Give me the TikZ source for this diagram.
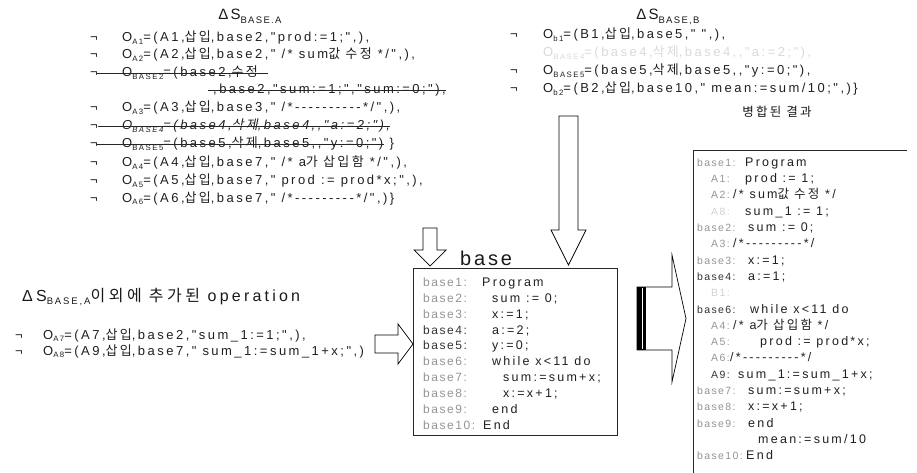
\documentclass[tikz,border=0pt]{standalone}
\usepackage{fontspec}
% Latin text: Arial-width sans, widely tracked; Hangul from Noto Sans CJK KR
\newfontfamily\opfont[LetterSpace=19]{Liberation Sans}
\newfontfamily\codefont[LetterSpace=18]{Liberation Sans}
\newfontfamily\lblfont[LetterSpace=13]{Liberation Sans}
\newfontfamily\ttlfont[LetterSpace=14]{Liberation Sans}
\newfontfamily\ttlwide[LetterSpace=20]{Liberation Sans}
\newfontfamily\kr[LetterSpace=18]{Noto Sans CJK KR}
\newfontfamily\krwide[LetterSpace=22]{Noto Sans CJK KR}
\newfontfamily\krslant[LetterSpace=18,FakeSlant=0.2]{Noto Sans CJK KR}
\newcommand\ko[1]{{\kr #1}}
\newcommand\kow[1]{{\krwide #1}}
\newcommand\kosl[1]{{\krslant #1}}
% small lowered index, as in O_{A1}
\newcommand\lo[1]{\raisebox{-2.5pt}{\fontsize{7.8pt}{8pt}\selectfont #1}}
\newcommand\tlo[1]{\raisebox{-3.2pt}{\fontsize{9.5pt}{10pt}\selectfont #1}}
\tikzset{
  op/.style={inner sep=0pt, anchor=base west, text=black!88,
             font=\opfont\fontsize{13pt}{15pt}\selectfont},
  negsign/.style={op},
  ttl/.style={inner sep=0pt, text=black!90,
             font=\ttlfont\fontsize{15pt}{17pt}\selectfont},
  code/.style={inner sep=0pt, anchor=base west, text=black!88,
             font=\codefont\fontsize{12.5pt}{14pt}\selectfont},
  lbl/.style={inner sep=0pt, anchor=base west, text=black!42,
             font=\lblfont\fontsize{12pt}{14pt}\selectfont},
  lbldark/.style={lbl, text=black!80},
  mlbl/.style={lbl, font=\lblfont\fontsize{10.5pt}{12pt}\selectfont},
  mlbldark/.style={mlbl, text=black!80},
  mlblfaint/.style={mlbl, text=black!18},
  strike/.style={line width=0.8pt, black!85},
  blockarrow/.style={draw=black, line width=0.7pt, fill=white, line join=miter},
  frame/.style={draw=black!85, line width=0.7pt},
}
\begin{document}
\begin{tikzpicture}[x=1pt,y=-1pt]
\useasboundingbox (0,0) rectangle (917,473);

% ---------- change set of branch A ----------
\node[ttl, anchor=base] (tA) at (250,20) {ΔS\tlo{BASE.A}};
\foreach \yy/\nm in {42/a1,59/a2,77/a3,112/a5,130/a6,148/a7,167/a8,185/a9,202/a10}
  \node[negsign] (n\nm) at (90,\yy) {¬};
\node[op] (oa1) at (122,42) {O\lo{A1}=(A1,\ko{삽입},base2,"prod:=1;",),};
\node[op] (oa2) at (122,59) {O\lo{A2}=(A2,\ko{삽입},base2," /* sum\ko{값 수정} */",),};
\node[op] (sA)  at (122,77) {O\lo{BASE2}=(base2,\ko{수정}};
\node[op] (sB)  at (213,94) {,base2,"sum:=1;","sum:=0;"),};
\node[op] (oa3) at (122,112) {O\lo{A3}=(A3,\ko{삽입},base3," /*----------*/",),};
\node[op, font=\opfont\itshape\fontsize{13pt}{15pt}\selectfont] (sC) at (122,130)
  {O\lo{BASE4}=(base4,\kosl{삭제},base4,,"a:=2;"),};
\node[op] (sD)  at (122,148) {O\lo{BASE5}=(base5,\ko{삭제},base5,,"y:=0;")};
\node[op] (sDend) at ([xshift=6pt]sD.base east) {\}};
\node[op] (oa4) at (122,167) {O\lo{A4}=(A4,\ko{삽입},base7," /* a\ko{가 삽입함} */",),};
\node[op] (oa5) at (122,185) {O\lo{A5}=(A5,\ko{삽입},base7," prod := prod*x;",),};
\node[op] (oa6) at (122,202) {O\lo{A6}=(A6,\ko{삽입},base7," /*---------*/",)\}};

% struck-out operations
\draw[strike] ([xshift=-25pt,yshift=4pt]sA.base west) -- ([xshift=10pt,yshift=4pt]sA.base east);
\draw[strike] ([xshift=-5pt,yshift=4pt]sB.base west) -- ([yshift=4pt]sB.base east);
\draw[strike] ([xshift=-24pt,yshift=4pt]sC.base west) -- ([yshift=4pt]sC.base east);
\draw[strike] ([xshift=-25pt,yshift=4pt]sD.base west) -- ([yshift=4pt]sD.base east);

% ---------- change set of branch B ----------
\node[ttl, anchor=base] (tB) at (668,20) {ΔS\tlo{BASE,B}};
\foreach \yy/\nm in {39/b1,75/b3,93/b4}
  \node[negsign] (n\nm) at (510,\yy) {¬};
\node[op] (ob1) at (543,39) {O\lo{b1}=(B1,\ko{삽입},base5," ",),};
\node[op, text=black!15] (ob2) at (543,57) {O\lo{BASE4}=(base4,\ko{삭제},base4,,"a:=2;"),};
\node[op] (ob3) at (543,75) {O\lo{BASE5}=(base5,\ko{삭제},base5,,"y:=0;"),};
\node[op] (ob4) at (543,93) {O\lo{b2}=(B2,\ko{삽입},base10," mean:=sum/10;",)\}};

% ---------- extra operations ----------
\node[ttl, anchor=base west, font=\ttlwide\fontsize{16pt}{18pt}\selectfont] (tX) at (22,301)
  {ΔS\tlo{BASE,A}\kow{이외에 추가된} operation};
\node[negsign] (nx1) at (15,339) {¬};
\node[negsign] (nx2) at (15,355) {¬};
\node[op] (ox1) at (43,339) {O\lo{A7}=(A7,\ko{삽입},base2,"sum\_1:=1;",),};
\node[op] (ox2) at (43,355) {O\lo{A8}=(A9,\ko{삽입},base7," sum\_1:=sum\_1+x;",)};

% ---------- base program ----------
\node[frame, anchor=north west, minimum width=204pt, minimum height=167pt, inner sep=0pt]
  (basebox) at (413,268) {};
\node[inner sep=0pt, anchor=base west, text=black!90,
      font=\ttlfont\fontsize{20pt}{22pt}\selectfont] (basettl) at (460,265) {base};
\node[lbl]     (bl1)  at (423,286.3) {base1:};   \node[code] (bc1)  at (482,286.3) {Program};
\node[lbl]     (bl2)  at (423,302.2) {base2:};   \node[code] (bc2)  at (492,302.2) {sum := 0;};
\node[lbl]     (bl3)  at (423,318.1) {base3:};   \node[code] (bc3)  at (492,318.1) {x:=1;};
\node[lbldark] (bl4)  at (423,334.0) {base4:};   \node[code] (bc4)  at (492,334.0) {a:=2;};
\node[lbldark] (bl5)  at (423,349.9) {base5:};   \node[code] (bc5)  at (492,349.9) {y:=0;};
\node[lbl]     (bl6)  at (423,365.8) {base6:};   \node[code] (bc6)  at (492,365.8) {while x<11 do};
\node[lbl]     (bl7)  at (423,381.7) {base7:};   \node[code] (bc7)  at (503,381.7) {sum:=sum+x;};
\node[lbl]     (bl8)  at (423,397.6) {base8:};   \node[code] (bc8)  at (503,397.6) {x:=x+1;};
\node[lbl]     (bl9)  at (423,413.5) {base9:};   \node[code] (bc9)  at (492,413.5) {end};
\node[lbl]     (bl10) at (423,429.4) {base10:};  \node[code] (bc10) at (483,429.4) {End};

% ---------- merged result ----------
\node[inner sep=0pt, anchor=base, text=black!90,
      font=\kr\fontsize{12.5pt}{14pt}\selectfont] (mttl) at (777,117) {병합된 결과};
\draw[frame] (907,150) coordinate (mtr) -- (693,150) coordinate (mtl) -- (693,473) coordinate (mbl);
\node[mlbl]      (ml1)  at (697,166.3) {base1:};  \node[code] (mc1)  at (745,166.3) {Program};
\node[mlbl]      (ml2)  at (711,182.6) {A1:};     \node[code] (mc2)  at (745,182.6) {prod := 1;};
\node[mlbl]      (ml3)  at (711,198.9) {A2:};     \node[code] (mc3)  at (733,198.9) {/* sum\ko{값 수정} */};
\node[mlblfaint] (ml4)  at (711,215.2) {A8:};     \node[code] (mc4)  at (745,215.2) {sum\_1 := 1;};
\node[mlbl]      (ml5)  at (697,231.5) {base2:};  \node[code] (mc5)  at (748,231.5) {sum := 0;};
\node[mlbl]      (ml6)  at (711,247.8) {A3:};     \node[code] (mc6)  at (733,247.8) {/*---------*/};
\node[mlbl]      (ml7)  at (697,264.1) {base3:};  \node[code] (mc7)  at (748,264.1) {x:=1;};
\node[mlbldark]  (ml8)  at (697,280.4) {base4:};  \node[code] (mc8)  at (748,280.4) {a:=1;};
\node[mlblfaint] (ml9)  at (711,296.7) {B1:};
\node[mlbldark]  (ml10) at (697,313.0) {base6:};  \node[code] (mc10) at (750,313.0) {while x<11 do};
\node[mlbl]      (ml11) at (711,329.3) {A4:};     \node[code] (mc11) at (733,329.3) {/* a\ko{가 삽입함} */};
\node[mlbl]      (ml12) at (711,345.6) {A5:};     \node[code] (mc12) at (760,345.6) {prod := prod*x;};
\node[mlbl]      (ml13) at (711,361.9) {A6:};     \node[code] (mc13) at (730,361.9) {/*---------*/};
\node[mlbldark]  (ml14) at (711,378.2) {A9:};     \node[code] (mc14) at (738,378.2) {sum\_1:=sum\_1+x;};
\node[mlbl]      (ml15) at (697,394.5) {base7:};  \node[code] (mc15) at (748,394.5) {sum:=sum+x;};
\node[mlbl]      (ml16) at (697,410.8) {base8:};  \node[code] (mc16) at (748,410.8) {x:=x+1;};
\node[mlbl]      (ml17) at (697,427.1) {base9:};  \node[code] (mc17) at (748,427.1) {end};
                                                  \node[code] (mc18) at (758,443.4) {mean:=sum/10};
\node[mlbl]      (ml19) at (697,459.7) {base10:}; \node[code] (mc19) at (746,459.7) {End};

% ---------- block arrows ----------
% B changes flowing down into the base program
\draw[blockarrow] (559,116) -- (578,116) -- (578,230) -- (586,230) -- (568.5,265)
  -- (551,230) -- (559,230) -- cycle;
% A changes flowing down into the base program
\draw[blockarrow] (423,228) -- (437,228) -- (437,250) -- (446,250) -- (430,266)
  -- (414,250) -- (423,250) -- cycle;
% extra operations flowing right into the base program
\draw[blockarrow] (375,335) -- (398,335) -- (398,324) -- (413,344) -- (398,364)
  -- (398,353) -- (375,353) -- cycle;
% merge arrow towards the result
\draw[blockarrow] (637,287) -- (672,287) -- (672,255) -- (686,318.5) -- (672,382)
  -- (672,350) -- (637,350) -- cycle;
\fill[black] (637,287) rectangle (646,350);
\draw[white, line width=0.6pt] (642,288) -- (642,349);
\end{tikzpicture}
\end{document}
